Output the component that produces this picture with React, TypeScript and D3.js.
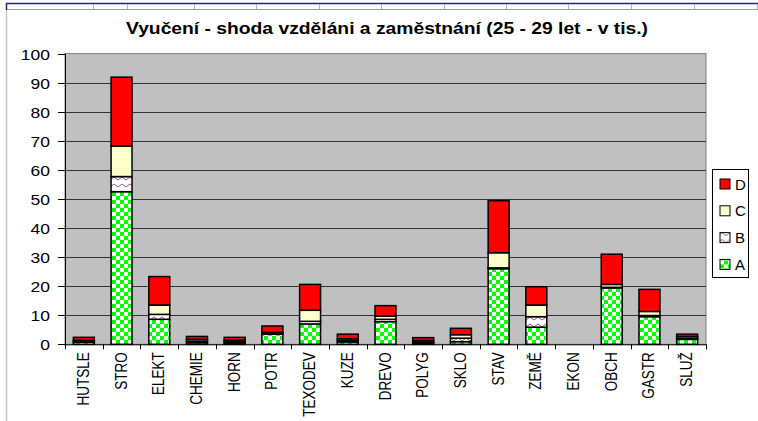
import * as d3 from 'd3';

// categories and stacked series (thousands)
const categories = ['HUTSLE', 'STRO', 'ELEKT', 'CHEMIE', 'HORN', 'POTR', 'TEXODEV', 'KUZE', 'DREVO', 'POLYG', 'SKLO', 'STAV', 'ZEMĚ', 'EKON', 'OBCH', 'GASTR', 'SLUŽ'];
const seriesA = [0.7, 52.5, 8.6, 0.6, 0.5, 3.5, 7.0, 0.8, 7.8, 0.5, 0.9, 26.0, 5.9, 0, 19.4, 9.5, 1.7];
const seriesB = [0.3, 5.2, 1.7, 0.5, 0.4, 0.3, 0.9, 0.5, 0.8, 0.3, 1.2, 0.3, 3.6, 0, 0.2, 0.4, 0.4];
const seriesC = [0.4, 10.5, 3.2, 0.6, 0.5, 0.3, 3.8, 0.6, 1.1, 0.5, 1.2, 5.2, 4.0, 0, 1.0, 1.4, 0.6];
const seriesD = [1.0, 23.7, 9.8, 1.0, 1.0, 2.2, 8.9, 1.6, 3.6, 1.0, 2.2, 17.9, 6.3, 0, 10.4, 7.6, 0.8];
const seriesKeys = ['A', 'B', 'C', 'D'];
const yTicks = [0, 10, 20, 30, 40, 50, 60, 70, 80, 90, 100];
const sheetCols = [93, 127, 194, 256, 319, 381, 444, 506, 568, 631, 694, 757];

const TITLE = 'Vyučení - shoda vzděláni a zaměstnání (25 - 29 let - v tis.)';

const W = 758;
const H = 421;
const plot = { left: 65, right: 706, top: 53.6, bottom: 344.3 };

const fills: Record<string, string> = {
  A: 'url(#chk)',
  B: 'url(#wave)',
  C: '#ffffcc',
  D: '#ff0000',
};

export default function App() {
  const rows = categories.map((c, i) => ({
    cat: c,
    A: seriesA[i],
    B: seriesB[i],
    C: seriesC[i],
    D: seriesD[i],
  }));
  const stacked = d3.stack<any>().keys(seriesKeys)(rows);

  // excel style gap width 80%
  const x = d3
    .scaleBand()
    .domain(categories)
    .range([plot.left, plot.right])
    .paddingInner(0.8 / 1.8)
    .paddingOuter(0.4 / 1.8);
  const step = (plot.right - plot.left) / categories.length;
  const y = d3.scaleLinear().domain([0, 100]).range([plot.bottom, plot.top]);

  const font = 'Arial, "Liberation Sans", sans-serif';

  return (
    <svg
      width={W}
      height={H}
      style={{ position: 'absolute', left: 0, top: 0, background: '#fff' }}
      fontFamily={font}
    >
      <defs>
        <pattern id="chk" width={8} height={8} patternUnits="userSpaceOnUse">
          <rect width={8} height={8} fill="#fff" />
          <rect width={4} height={4} fill="#00ff00" />
          <rect x={4} y={4} width={4} height={4} fill="#00ff00" />
        </pattern>
        <pattern id="wave" width={8} height={7} patternUnits="userSpaceOnUse">
          <rect width={8} height={7} fill="#fff" />
          <path d="M0 3.5 Q2 0.5 4 3.5 T8 3.5" fill="none" stroke="#a0508c" strokeWidth={1} />
        </pattern>
      </defs>

      {/* spreadsheet strip around the embedded chart */}
      <rect x={0} y={0} width={W} height={H} fill="#fff" />
      <line x1={6} x2={W} y1={3.5} y2={3.5} stroke="#1c2a7a" strokeWidth={1.5} />
      <line x1={6} x2={W} y1={9.5} y2={9.5} stroke="#9a9a9a" strokeWidth={1} />
      {sheetCols.map((cx) => (
        <line key={cx} x1={cx + 0.5} x2={cx + 0.5} y1={4} y2={9} stroke="#b0b0b0" />
      ))}
      <line x1={6.5} x2={6.5} y1={3} y2={10} stroke="#1c2a7a" strokeWidth={1.5} />
      <line x1={6.5} x2={6.5} y1={10} y2={H} stroke="#c8c8c8" strokeWidth={1.5} />

      {/* title */}
      <text
        x={387}
        y={34}
        textAnchor="middle"
        fontSize={16}
        fontWeight="bold"
        textLength={522}
        lengthAdjust="spacingAndGlyphs"
      >
        {TITLE}
      </text>

      {/* plot area */}
      <rect
        x={plot.left}
        y={plot.top}
        width={plot.right - plot.left}
        height={plot.bottom - plot.top}
        fill="#c0c0c0"
        stroke="#808080"
        strokeWidth={1}
      />
      {yTicks
        .filter((t) => t > 0 && t < 100)
        .map((t) => (
          <line
            key={t}
            x1={plot.left}
            x2={plot.right}
            y1={Math.round(y(t)) + 0.5}
            y2={Math.round(y(t)) + 0.5}
            stroke="#333"
            strokeWidth={1.2}
          />
        ))}

      {/* bars */}
      {stacked.map((s) => (
        <g key={s.key} fill={fills[s.key]}>
          {s.map((d, i) =>
            d[1] - d[0] > 0 ? (
              <rect
                key={i}
                x={x(categories[i])}
                y={y(d[1])}
                width={x.bandwidth()}
                height={y(d[0]) - y(d[1])}
                stroke="#000"
                strokeWidth={1.5}
              />
            ) : null
          )}
        </g>
      ))}

      {/* y axis */}
      <line x1={plot.left + 0.5} x2={plot.left + 0.5} y1={plot.top} y2={plot.bottom} stroke="#000" />
      {yTicks.map((t) => (
        <g key={t} transform={`translate(0,${Math.round(y(t)) + 0.5})`}>
          <line x1={plot.left - 7} x2={plot.left} stroke="#000" />
          <text
            transform={`translate(${plot.left - 15},5) scale(1.25,1)`}
            textAnchor="end"
            fontSize={14}
          >
            {t}
          </text>
        </g>
      ))}

      {/* x axis */}
      <line x1={plot.left} x2={plot.right} y1={plot.bottom + 0.5} y2={plot.bottom + 0.5} stroke="#000" />
      {d3.range(categories.length + 1).map((i) => (
        <line
          key={i}
          x1={Math.round(plot.left + i * step) + 0.5}
          x2={Math.round(plot.left + i * step) + 0.5}
          y1={plot.bottom}
          y2={plot.bottom + 5}
          stroke="#000"
        />
      ))}
      {categories.map((c) => (
        <text
          key={c}
          transform={`translate(${(x(c) ?? 0) + x.bandwidth() / 2 + 5},${plot.bottom + 8}) rotate(-90) scale(1,1.2)`}
          textAnchor="end"
          fontSize={13.5}
        >
          {c}
        </text>
      ))}

      {/* legend */}
      <rect x={712.5} y={169.5} width={36} height={108} fill="#fff" stroke="#000" />
      {['D', 'C', 'B', 'A'].map((k, i) => (
        <g key={k} transform={`translate(720,${184 + i * 26.8})`}>
          <rect x={0} y={-5} width={10} height={10} fill={fills[k]} stroke="#000" />
          <text x={15} y={5.5} fontSize={15}>
            {k}
          </text>
        </g>
      ))}
    </svg>
  );
}
